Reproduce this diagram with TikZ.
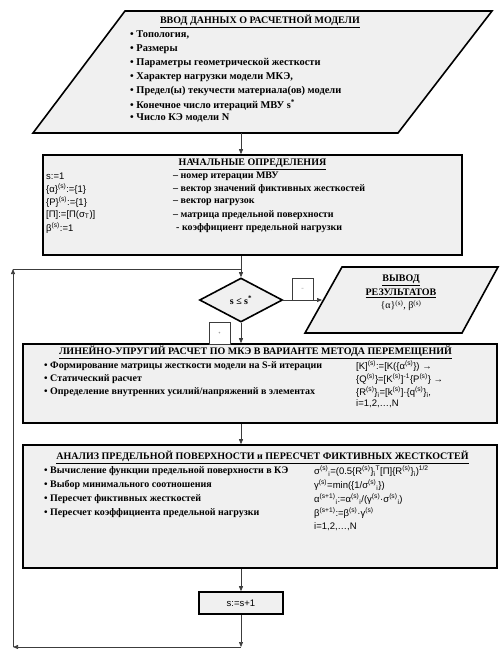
\documentclass[tikz,border=0pt]{standalone}
\usepackage{fontspec}
\setmainfont{Liberation Serif}
\setsansfont{Liberation Sans}
\usetikzlibrary{shapes.geometric,arrows.meta}
\definecolor{boxgray}{RGB}{240,240,240}
\definecolor{linegray}{RGB}{60,60,60}
\begin{document}
\begin{tikzpicture}[x=1pt,y=-1pt,
  box/.style={draw=black, line width=1.6pt, fill=boxgray, inner sep=0pt},
  conn/.style={draw=linegray, line width=0.7pt},
  arr/.style={conn, -{Triangle[length=5pt,width=4pt]}},
  hd/.style={font=\bfseries\fontsize{10}{11}\selectfont, inner sep=0pt},
  itm/.style={anchor=west, font=\bfseries\fontsize{10}{11}\selectfont, inner sep=0pt},
  fml/.style={anchor=west, font=\sffamily\fontsize{9.5}{11}\selectfont, inner sep=0pt},
  lbl/.style={draw=linegray, line width=0.6pt, fill=white, minimum width=21pt, minimum height=22pt, inner sep=0pt, font=\fontsize{4}{4}\selectfont}]
\useasboundingbox (0,0) rectangle (499,649);

% ---------- input data (parallelogram)
\coordinate (inA) at (125,11);
\coordinate (inB) at (492,11);
\coordinate (inC) at (398,133);
\coordinate (inD) at (33,133);
\draw[box] (inA) -- (inB) -- (inC) -- (inD) -- cycle;
\coordinate (inOut) at (241,133);
\node[hd] (inH) at (260,21) {\underline{ВВОД ДАННЫХ О РАСЧЕТНОЙ МОДЕЛИ}};
\node[itm, font=\bfseries\fontsize{10.4}{11}\selectfont] (in1) at (130,35) {\textbullet\ Топология,};
\node[itm, font=\bfseries\fontsize{10.4}{11}\selectfont] (in2) at (130,49) {\textbullet\ Размеры};
\node[itm, font=\bfseries\fontsize{10.4}{11}\selectfont] (in3) at (130,63) {\textbullet\ Параметры геометрической жесткости};
\node[itm, font=\bfseries\fontsize{10.4}{11}\selectfont] (in4) at (130,77) {\textbullet\ Характер нагрузки модели МКЭ,};
\node[itm, font=\bfseries\fontsize{10.4}{11}\selectfont] (in5) at (130,91) {\textbullet\ Предел(ы) текучести материала(ов) модели};
\node[itm, font=\bfseries\fontsize{10.4}{11}\selectfont] (in6) at (130,105) {\textbullet\ Конечное число итераций МВУ s\textsuperscript{*}};
\node[itm, font=\bfseries\fontsize{10.4}{11}\selectfont] (in7) at (130,118) {\textbullet\ Число КЭ модели N};

% ---------- initial definitions
\node[box, minimum width=419pt, minimum height=100pt] (init) at (252.5,205) {};
\node[hd] (initH) at (252.5,164) {\underline{НАЧАЛЬНЫЕ ОПРЕДЕЛЕНИЯ}};
\node[fml] (a1) at (46,176) {s:=1};
\node[fml] (a2) at (46,189) {\{α\}\textsuperscript{(s)}:=\{1\}};
\node[fml] (a3) at (46,202) {\{P\}\textsuperscript{(s)}:=\{1\}};
\node[fml] (a4) at (46,215) {[П]:=[П(σ\textsubscript{T})]};
\node[fml] (a5) at (46,228) {β\textsuperscript{(s)}:=1};
\node[itm] (b1) at (173,176) {– номер итерации МВУ};
\node[itm] (b2) at (173,189) {– вектор значений фиктивных жесткостей};
\node[itm] (b3) at (173,202) {– вектор нагрузок};
\node[itm] (b4) at (173,215) {– матрица предельной поверхности};
\node[itm] (b5) at (176,228) {- коэффициент предельной нагрузки};

% ---------- decision
\node[box, shape=diamond, minimum width=83pt, minimum height=44pt, font=\bfseries\fontsize{10}{11}\selectfont] (dec) at (241,300) {s ≤ s\textsuperscript{*}};

% ---------- output
\coordinate (oA) at (342,267);
\coordinate (oB) at (498,267);
\coordinate (oC) at (462,333);
\coordinate (oD) at (305,333);
\draw[box] (oA) -- (oB) -- (oC) -- (oD) -- cycle;
\coordinate (oIn) at (322,300);
\node[font=\bfseries\fontsize{10}{13.5}\selectfont, align=center, inner sep=0pt] (oT) at (401,293)
  {\underline{ВЫВОД}\\\underline{РЕЗУЛЬТАТОВ}\\{\mdseries\{α\}\textsuperscript{(s)}, β\textsuperscript{(s)}}};

% ---------- linear elastic FEM
\node[box, minimum width=474pt, minimum height=79pt] (lin) at (260,383.5) {};
\node[hd] (linH) at (255.5,352) {\underline{ЛИНЕЙНО-УПРУГИЙ РАСЧЕТ ПО МКЭ В ВАРИАНТЕ МЕТОДА ПЕРЕМЕЩЕНИЙ}};
\node[itm] (l1) at (44,366) {\textbullet\ Формирование матрицы жесткости модели на S-й итерации};
\node[itm] (l2) at (44,379) {\textbullet\ Статический расчет};
\node[itm] (l3) at (44,392) {\textbullet\ Определение внутренних усилий/напряжений в элементах};
\node[fml] (f1) at (356,366) {[K]\textsuperscript{(s)}:=[K(\{α\textsuperscript{(s)}\}) →};
\node[fml] (f2) at (356,379) {\{Q\textsuperscript{(s)}\}=[K\textsuperscript{(s)}]\textsuperscript{-1}\{P\textsuperscript{(s)}\} →};
\node[fml] (f3) at (356,392) {\{R\textsuperscript{(s)}\}\textsubscript{i}=[k\textsuperscript{(s)}]·\{q\textsuperscript{(s)}\}\textsubscript{i},};
\node[fml] (f4) at (356,404) {i=1,2,…,N};

% ---------- limit surface analysis
\node[box, minimum width=474pt, minimum height=123pt] (ana) at (260,506.5) {};
\node[hd] (anaH) at (262.5,457) {\underline{АНАЛИЗ ПРЕДЕЛЬНОЙ ПОВЕРХНОСТИ и ПЕРЕСЧЕТ ФИКТИВНЫХ ЖЕСТКОСТЕЙ}};
\node[itm] (n1) at (44,471) {\textbullet\ Вычисление функции предельной поверхности в КЭ};
\node[itm] (n2) at (44,485) {\textbullet\ Выбор минимального соотношения};
\node[itm] (n3) at (44,499) {\textbullet\ Пересчет фиктивных жесткостей};
\node[itm] (n4) at (44,513) {\textbullet\ Пересчет коэффициента предельной нагрузки};
\node[fml] (g1) at (314,471) {σ\textsuperscript{(s)}\textsubscript{i}=(0.5\{R\textsuperscript{(s)}\}\textsubscript{i}\textsuperscript{T}[П]\{R\textsuperscript{(s)}\}\textsubscript{i})\textsuperscript{1/2}};
\node[fml] (g2) at (314,485) {γ\textsuperscript{(s)}=min(\{1/σ\textsuperscript{(s)}\textsubscript{i}\})};
\node[fml] (g3) at (314,499) {α\textsuperscript{(s+1)}\textsubscript{i}:=α\textsuperscript{(s)}\textsubscript{i}/(γ\textsuperscript{(s)}·σ\textsuperscript{(s)}\textsubscript{i})};
\node[fml] (g4) at (314,513) {β\textsuperscript{(s+1)}:=β\textsuperscript{(s)}·γ\textsuperscript{(s)}};
\node[fml] (g5) at (314,527) {i=1,2,…,N};

% ---------- increment
\node[box, minimum width=84pt, minimum height=22pt, font=\sffamily\fontsize{9.5}{10}\selectfont] (inc) at (241,603) {s:=s+1};

% ---------- loop coordinates
\coordinate (j) at (241,269);
\coordinate (lt) at (13,269);
\coordinate (lb) at (13,647);
\coordinate (bb) at (241,647);

% ---------- connectors
\draw[arr] (inOut) -- (inOut |- init.north);
\draw[arr] (dec.north |- init.south) -- (dec.north);
\draw[arr] (dec.east) -- (oIn);
\draw[arr] (dec.south) -- (dec.south |- lin.north);
\draw[arr] (dec.south |- lin.south) -- (dec.south |- ana.north);
\draw[arr] (inc.north |- ana.south) -- (inc.north);
\draw[arr] (inc.south) -- (bb);
\draw[arr] (bb) -- (lb);
\draw[arr] (lb) -- (lt);
\draw[conn] (lt) -- (j);

% ---------- branch labels
\node[lbl] (minus) at (302.5,289) {–};
\node[lbl] (plus) at (219.5,333) {+};
\end{tikzpicture}
\end{document}
